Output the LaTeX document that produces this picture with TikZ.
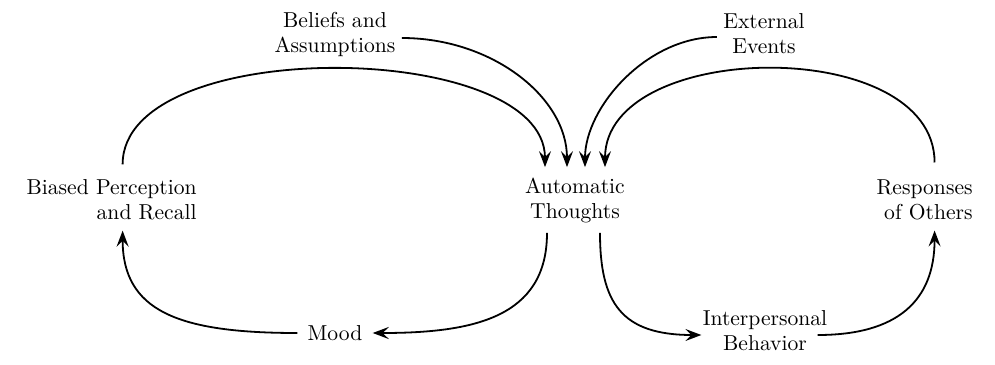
\documentclass[tikz,border=0pt]{standalone}
\usepackage{tikz}
\usetikzlibrary{arrows.meta,calc}

\tikzset{
  box/.style={inner sep=5pt, font=\fontsize{10.8}{12.5}\selectfont},
  arr/.style={line width=0.9pt, -{Stealth[length=8pt,width=6pt,inset=3pt]}}
}

\begin{document}
\begin{tikzpicture}[x=0.5pt,y=-0.5pt]

  \useasboundingbox (0,0) rectangle (995,364);

  \node[box, align=center] (bel) at (335,34) {Beliefs and\\Assumptions};
  \node[box, align=center] (ext) at (764,34) {External\\Events};
  \node[box, align=right, anchor=east] (bias) at (207,200) {Biased Perception\\and Recall};
  \node[box, align=center] (aut) at (575,200) {Automatic\\Thoughts};
  \node[box, align=right, anchor=east] (resp) at (983,200) {Responses\\of Others};
  \node[box] (mood) at (335,333) {Mood};
  \node[box, align=center] (inter) at (765,331) {Interpersonal\\Behavior};

  % into the thoughts
  \draw[arr] ($(bias.north)+(11,-5)$) .. controls +(0,-130) and +(0,-128) .. ($(aut.north)+(-30,0)$);
  \draw[arr] ($(bel.east)+(-4,4)$) .. controls +(90,0) and +(0,-70) .. ($(aut.north)+(-8,0)$);
  \draw[arr] ($(ext.west)+(4,3)$) .. controls +(-70,0) and +(0,-60) .. ($(aut.north)+(10,0)$);
  \draw[arr] ($(resp.north)+(10,-7)$) .. controls +(0,-128) and +(0,-128) .. ($(aut.north)+(30,0)$);

  % out of the thoughts
  \draw[arr] ($(aut.south)+(-28,0)$) .. controls +(0,85) and +(100,0) .. (mood.east);
  \draw[arr] (mood.west) .. controls +(-120,0) and +(0,80) .. ($(bias.south)+(11,0)$);
  \draw[arr] ($(aut.south)+(25,0)$) .. controls +(0,70) and +(-80,0) .. ($(inter.west)+(9,4)$);
  \draw[arr] ($(inter.east)+(-20,4)$) .. controls +(80,0) and +(0,70) .. ($(resp.south)+(10,0)$);

\end{tikzpicture}
\end{document}
